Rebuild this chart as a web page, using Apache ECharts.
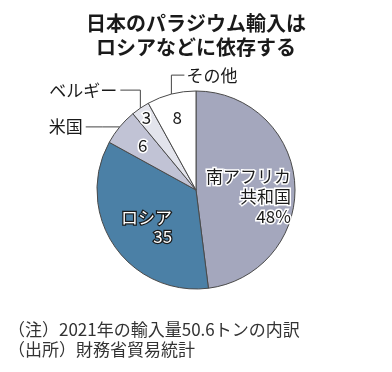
<!DOCTYPE html>
<html><head><meta charset="utf-8">
<script src="https://cdn.jsdelivr.net/npm/echarts@6/dist/echarts.min.js"></script>
<style>html,body{margin:0;padding:0;background:#fff}#c{width:392px;height:372px}</style>
</head><body><div id="c"></div>
<script>
const categories = ['南アフリカ共和国', 'ロシア', '米国', 'ベルギー', 'その他'];
const values = [48, 35, 6, 3, 8];
const innerLabels = ['南アフリカ\n共和国\n48%', 'ロシア\n35', '6', '3', '8'];
const outerLabels = ['', '', '米国', 'ベルギー', 'その他'];
const colors = ['#a4a7bd', '#4b80a6', '#c1c3d5', '#e3e4ec', '#ffffff'];
const titleText = '日本のパラジウム輸入は\nロシアなどに依存する';
const noteText = '（注）2021年の輸入量50.6トンの内訳\n（出所）財務省貿易統計';

const CX = 196, CY = 190, R = 99;
const FONT = '"Noto Sans CJK JP", "Noto Sans", sans-serif';
const total = values.reduce((a, b) => a + b, 0);
function midAngle(i) { let s = 0; for (let k = 0; k < i; k++) s += values[k]; return (s + values[i] / 2) / total * 2 * Math.PI; }
function pt(i, r) { const a = midAngle(i); return [CX + r * Math.sin(a), CY - r * Math.cos(a)]; }

function innerLabelCfg(i) {
  const lines = innerLabels[i].split('\n');
  if (i === 1) {
    return {
      formatter: lines.map(l => '{w|' + l + '}').join('\n'),
      rich: { w: { align: 'right', fontSize: 17, lineHeight: 19, color: '#ffffff', textBorderColor: '#1a1a1a', textBorderWidth: 2.5, fontFamily: FONT } }
    };
  }
  return {
    formatter: lines.map(l => '{d|' + l + '}').join('\n'),
    rich: { d: { align: 'right', fontSize: 17, lineHeight: 20, color: '#1a1a1a', textBorderColor: '#ffffff', textBorderWidth: 3, fontFamily: FONT } }
  };
}

const mainData = categories.map((c, i) => ({
  name: c, value: values[i],
  itemStyle: { color: colors[i] },
  label: Object.assign({ show: true, position: 'inside' }, innerLabelCfg(i))
}));

const outerData = categories.map((c, i) => ({
  name: c, value: values[i],
  label: { show: !!outerLabels[i], formatter: outerLabels[i] },
  labelLine: { show: !!outerLabels[i] }
}));

const innerRatio = { 2: 0.70, 3: 0.89, 4: 0.76 };

const chart = echarts.init(document.getElementById('c'));
chart.setOption({
  animation: false,
  backgroundColor: '#ffffff',
  title: [
    { text: titleText, left: 'center', top: 11, padding: 0,
      textStyle: { fontSize: 20, fontWeight: 'bold', lineHeight: 24, color: '#1a1a1a', fontFamily: FONT } },
    { text: noteText, left: 8, top: 320, padding: 0,
      textStyle: { fontSize: 17, fontWeight: 'normal', lineHeight: 20, color: '#333333', fontFamily: FONT } }
  ],
  series: [
    {
      type: 'pie', center: [CX, CY], radius: R, startAngle: 90, clockwise: true,
      avoidLabelOverlap: false, silent: true, emphasis: { disabled: true },
      itemStyle: { borderColor: '#4a4a4a', borderWidth: 1 },
      labelLine: { show: false },
      data: mainData,
      labelLayout: function (p) {
        const i = p.dataIndex;
        if (i === 0) return { dy: 10 };
        if (i === 1) return { dx: -6, dy: 8 };
        const q = pt(i, R * innerRatio[i]);
        return { x: q[0], y: q[1], align: 'center', verticalAlign: 'middle' };
      }
    },
    {
      type: 'pie', center: [CX, CY], radius: R, startAngle: 90, clockwise: true,
      avoidLabelOverlap: false, silent: true, emphasis: { disabled: true },
      itemStyle: { color: 'rgba(0,0,0,0)', borderWidth: 0 },
      label: { position: 'outside', fontSize: 17, color: '#1a1a1a', fontFamily: FONT },
      labelLine: { lineStyle: { color: '#444444', width: 1 } },
      data: outerData,
      labelLayout: function (p) {
        const i = p.dataIndex;
        if (!outerLabels[i]) return {};
        const e = pt(i, R);
        if (i === 2) {
          return { x: e[0] - 37, y: e[1], align: 'right', verticalAlign: 'middle',
            labelLinePoints: [e, [e[0] - 17, e[1]], [e[0] - 34, e[1]]] };
        }
        if (i === 3) {
          return { x: e[0] - 23, y: e[1] - 18, align: 'right', verticalAlign: 'middle',
            labelLinePoints: [e, [e[0], e[1] - 18], [e[0] - 20, e[1] - 18]] };
        }
        return { x: e[0] + 15, y: e[1] - 19, align: 'left', verticalAlign: 'middle',
          labelLinePoints: [e, [e[0], e[1] - 19], [e[0] + 13, e[1] - 19]] };
      }
    }
  ]
});
</script></body></html>
